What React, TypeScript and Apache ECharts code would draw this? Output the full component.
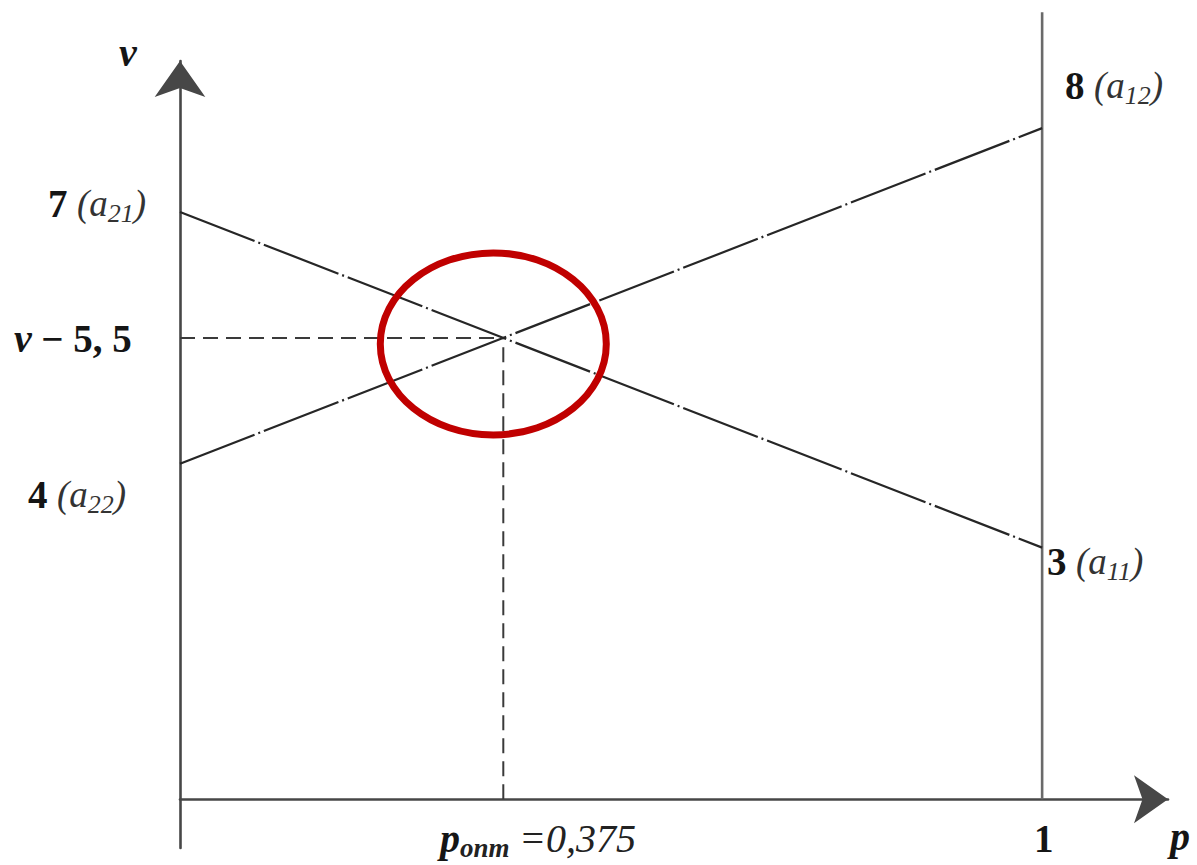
import React, { useEffect, useRef } from 'react';
import * as echarts from 'echarts';

// Game solution graph: payoff lines v(p)
const pEnds = [0, 1];
const lineA = [7, 3]; // a21 at p=0 -> a11 at p=1
const lineB = [4, 8]; // a22 at p=0 -> a12 at p=1
const pOpt = 0.375;
const vOpt = 5.5;
const rightEdgeTop = 9.38; // top of the p = 1 vertical line
const yMin = -0.58;
const yMax = 8.8;
const xMax = 1.146;

const FONT = '"Liberation Serif", "Times New Roman", serif';

const rich = {
  n: { fontFamily: FONT, fontSize: 39, fontWeight: 'bold', fill: '#151515', color: '#151515' },
  nb: { fontFamily: FONT, fontSize: 40, fontWeight: 'bold', fontStyle: 'italic', fill: '#151515', color: '#151515' },
  i: { fontFamily: FONT, fontSize: 37, fontStyle: 'italic', fill: '#333', color: '#333' },
  ie: { fontFamily: FONT, fontSize: 40, fontStyle: 'italic', fill: '#222', color: '#222' },
  s: { fontFamily: FONT, fontSize: 26, fontStyle: 'italic', fill: '#333', color: '#333', padding: [20, 0, 0, 0] },
  sb: { fontFamily: FONT, fontSize: 27, fontStyle: 'italic', fontWeight: 'bold', fill: '#222', color: '#222', padding: [20, 0, 0, 0] },
};

const labelTexts = [
  { text: '{n|7} {i|(a}{s|21}{i|)}', x: 48, y: 203 },
  { text: '{nb|v} {n|− 5, 5}', x: 14, y: 338 },
  { text: '{n|4} {i|(a}{s|22}{i|)}', x: 28, y: 494 },
  { text: '{n|8} {i|(a}{s|12}{i|)}', x: 1065, y: 85 },
  { text: '{n|3} {i|(a}{s|11}{i|)}', x: 1047, y: 561 },
  { text: '{n|1}', x: 1034, y: 838 },
  { text: '{nb|p}', x: 1170, y: 836 },
  { text: '{nb|p}{sb|опт} {ie|=0,375}', x: 440, y: 838 },
  { text: '{nb|v}', x: 119, y: 52 },
];

export default function App() {
  const ref = useRef<HTMLDivElement>(null);
  useEffect(() => {
    if (!ref.current) return;
    const chart = echarts.init(ref.current, null, { renderer: 'svg' });
    const mainLine = { color: '#262626', width: 2.2, type: [80, 4, 2, 4] as any };
    const dashLine = { color: '#3a3a3a', width: 2, type: [15, 8] as any };
    chart.setOption({
      animation: false,
      backgroundColor: '#ffffff',
      grid: { left: 180, right: 29, top: 61, bottom: 17, containLabel: false },
      xAxis: {
        type: 'value',
        min: 0,
        max: xMax,
        axisLine: {
          show: true,
          onZero: true,
          symbol: ['none', 'arrow'],
          symbolSize: [36, 34],
          lineStyle: { color: '#474747', width: 2.6 },
        },
        axisTick: { show: false },
        axisLabel: { show: false },
        splitLine: { show: false },
      },
      yAxis: {
        type: 'value',
        min: yMin,
        max: yMax,
        axisLine: {
          show: true,
          onZero: false,
          symbol: ['none', 'arrow'],
          symbolSize: [38, 36],
          lineStyle: { color: '#474747', width: 2.6 },
        },
        axisTick: { show: false },
        axisLabel: { show: false },
        splitLine: { show: false },
      },
      series: [
        {
          type: 'line',
          data: pEnds.map((p, k) => [p, lineA[k]]),
          symbol: 'none',
          lineStyle: mainLine,
          z: 3,
        },
        {
          type: 'line',
          data: pEnds.map((p, k) => [p, lineB[k]]),
          symbol: 'none',
          lineStyle: mainLine,
          z: 3,
        },
        {
          type: 'line',
          data: [[0, vOpt], [pOpt, vOpt]],
          symbol: 'none',
          lineStyle: dashLine,
          z: 2,
        },
        {
          type: 'line',
          data: [[pOpt, 0], [pOpt, vOpt]],
          symbol: 'none',
          lineStyle: dashLine,
          z: 2,
        },
        {
          type: 'line',
          data: [[1, 0], [1, rightEdgeTop]],
          symbol: 'none',
          clip: false,
          lineStyle: { color: '#6a6a6a', width: 2.6 },
          z: 2,
        },
      ],
    });

    const c = chart.convertToPixel({ gridIndex: 0 }, [pOpt, vOpt]) as number[];
    const graphics: any[] = labelTexts.map((l) => ({
      type: 'text',
      x: l.x,
      y: l.y,
      z: 10,
      style: {
        text: l.text,
        rich,
        font: `bold 38px ${FONT}`,
        fill: '#151515',
        align: 'left',
        textAlign: 'left',
        verticalAlign: 'middle',
        textVerticalAlign: 'middle',
      },
    }));
    graphics.push({
      type: 'ellipse',
      shape: { cx: c[0] - 10, cy: c[1] + 6, rx: 113, ry: 91 },
      z: 20,
      style: { fill: 'none', stroke: '#c00000', lineWidth: 7 },
    });
    chart.setOption({ graphic: graphics });

    return () => chart.dispose();
  }, []);
  return (
    <div
      ref={ref}
      style={{ position: 'fixed', left: 0, top: 0, width: 1197, height: 865, background: '#fff' }}
    />
  );
}
